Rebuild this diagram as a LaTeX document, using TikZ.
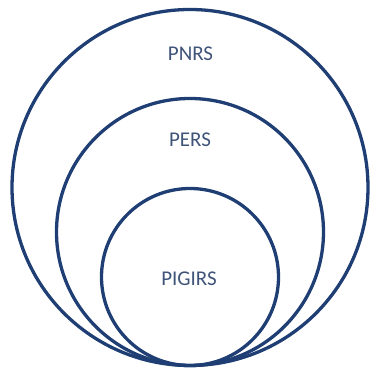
\documentclass[tikz,border=0pt]{standalone}
\usepackage{fontspec}
\setmainfont{Carlito}
\definecolor{ringblue}{HTML}{1F3F74}
\definecolor{labelblue}{HTML}{3F5478}
\begin{document}
\begin{tikzpicture}[x=1pt,y=1pt,
  ring/.style={circle, draw=ringblue, line width=3.3pt, inner sep=0pt, outer sep=0pt},
  lbl/.style={text=labelblue, font=\fontsize{21}{24}\selectfont, inner sep=0pt}]
\useasboundingbox (0,0) rectangle (370,369);
\node[ring, minimum size=356pt] (outer) at (190,181.5) {};
\node[ring, minimum size=267pt] (middle) at (190,137) {};
\node[ring, minimum size=177pt] (inner) at (190,92) {};
\node[lbl] (pnrs) at (190.5,315) {PNRS};
\node[lbl] (pers) at (190,229) {PERS};
\node[lbl] (pigirs) at (189,90) {PIGIRS};
\end{tikzpicture}
\end{document}
